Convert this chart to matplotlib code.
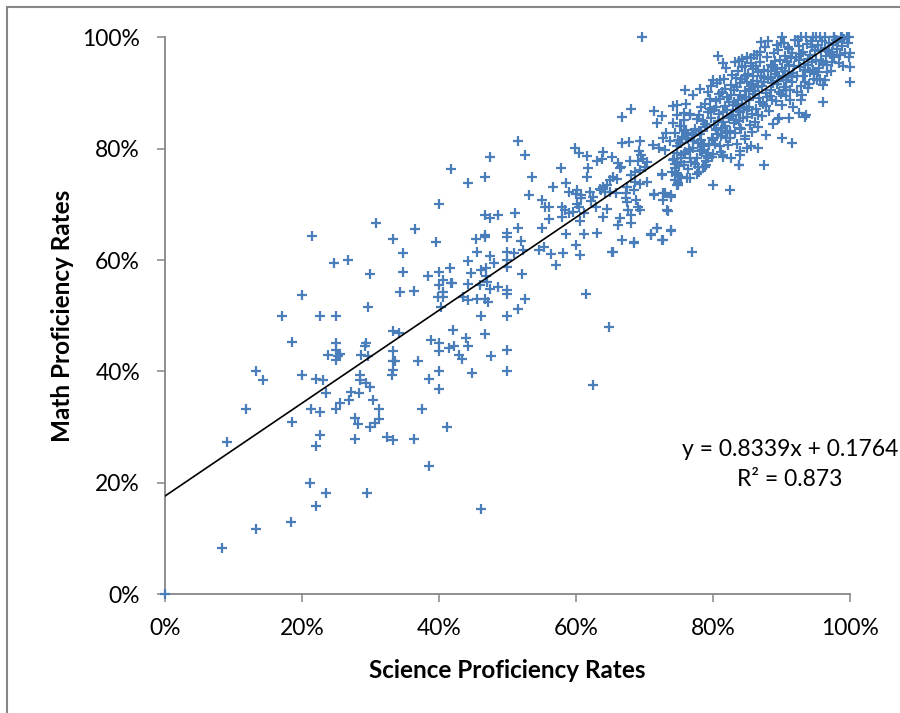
import matplotlib
matplotlib.use("Agg")
import matplotlib.pyplot as plt
from matplotlib.patches import Rectangle
from matplotlib.ticker import FuncFormatter

# ---------------- data (percent) ----------------
# sparse low / middle region
low_pts = [
    (30.8, 66.7), (21.4, 64.3), (24.6, 59.4), (26.7, 60.0), (29.9, 57.5), (20.0, 53.8),
    (17.1, 50.0), (22.7, 50.0), (25.0, 50.0), (29.7, 51.5), (18.5, 45.3), (25.0, 45.1),
    (24.9, 43.9), (23.8, 43.0), (25.5, 43.1), (24.9, 42.1), (25.3, 42.7), (28.6, 43.0),
    (29.4, 45.1), (29.2, 44.5), (29.7, 42.8), (13.3, 40.0), (14.3, 38.5), (20.0, 39.4),
    (22.1, 38.7), (23.1, 38.5), (23.5, 36.1), (28.5, 39.4), (28.5, 38.5), (29.4, 37.9),
    (29.9, 37.2), (27.2, 36.4), (28.3, 36.2), (26.8, 34.9), (25.6, 34.3), (25.0, 33.3),
    (30.4, 34.8), (31.2, 33.3), (11.8, 33.3), (21.3, 33.3), (22.6, 32.7), (18.5, 31.0),
    (27.7, 31.6), (28.2, 30.6), (31.2, 31.4), (30.7, 30.8), (29.9, 30.0), (22.7, 28.6),
    (22.1, 26.7), (27.8, 27.9), (32.4, 28.2), (9.1, 27.3), (21.2, 19.9), (23.5, 18.2),
    (29.5, 18.2), (22.1, 15.9), (18.4, 12.9), (13.3, 11.8), (8.3, 8.3), (0.0, 0.0),
]

mid_pts = [
    (51.6, 81.3), (52.6, 78.9), (47.4, 78.5), (41.8, 76.4), (44.3, 73.8), (46.7, 75.0),
    (53.6, 75.0), (57.8, 76.6), (59.9, 80.2), (60.5, 79.3), (61.6, 78.7), (63.0, 77.8),
    (63.8, 78.1), (64.0, 79.4), (61.8, 76.6), (61.6, 75.0), (56.6, 73.1), (58.5, 73.8),
    (59.0, 72.3), (60.2, 72.5), (60.7, 71.7), (62.0, 72.3), (62.5, 71.3), (63.6, 72.6),
    (64.5, 73.5), (53.2, 71.6), (55.1, 70.8), (55.5, 69.5), (56.1, 69.5), (56.1, 67.4),
    (58.0, 69.5), (58.4, 69.0), (59.0, 68.4), (59.5, 68.6), (60.1, 70.1), (60.5, 69.6),
    (61.1, 68.4), (60.6, 67.1), (58.0, 67.8), (64.0, 67.8), (64.5, 69.1), (51.1, 68.4),
    (48.6, 68.1), (46.7, 68.1), (47.4, 67.5), (40.0, 70.1), (36.5, 65.5), (33.3, 63.7),
    (39.5, 63.3), (34.7, 61.2), (34.8, 57.9), (34.3, 54.3), (36.4, 54.5), (45.4, 63.7),
    (46.7, 64.5), (46.7, 64.2), (49.9, 64.9), (49.9, 64.2), (51.6, 65.7), (51.9, 63.5),
    (55.1, 65.7), (58.5, 64.6), (61.1, 64.7), (63.0, 64.9), (60.0, 62.7), (60.6, 61.0),
    (58.1, 61.2), (56.4, 61.1), (57.1, 59.2), (54.6, 61.8), (55.4, 62.3), (52.2, 61.9),
    (51.0, 61.2), (49.9, 61.5), (49.9, 60.0), (49.9, 58.8), (45.5, 61.5), (47.4, 60.7),
    (48.1, 59.5), (44.2, 59.8), (41.6, 58.5), (40.0, 57.9), (38.4, 57.2), (44.6, 57.6),
    (46.1, 58.3), (46.9, 58.6), (46.9, 57.1), (52.1, 57.5), (40.0, 55.5), (40.6, 56.4),
    (41.9, 55.8), (40.6, 54.3), (39.9, 53.3), (40.6, 53.4), (40.3, 51.5), (44.3, 55.7),
    (46.0, 55.5), (47.0, 56.1), (47.4, 54.9), (48.6, 55.2), (49.9, 54.6), (49.9, 54.0),
    (43.5, 53.3), (44.3, 52.8), (45.5, 53.0), (46.7, 53.1), (47.1, 52.5), (52.6, 53.1),
    (51.6, 51.2), (49.9, 50.0), (46.2, 50.0), (61.5, 53.9), (64.8, 47.9), (33.3, 47.3),
    (34.1, 46.9), (38.9, 45.7), (40.0, 45.2), (40.0, 43.7), (42.0, 47.5), (41.4, 44.2),
    (42.2, 44.5), (42.9, 43.0), (43.3, 42.2), (44.0, 46.1), (44.3, 44.5), (46.7, 46.7),
    (47.6, 42.8), (49.9, 43.9), (49.9, 40.1), (44.8, 39.8), (40.0, 40.1), (38.5, 38.6),
    (40.0, 36.8), (37.0, 41.9), (33.3, 43.6), (33.3, 41.8), (33.6, 41.8), (33.3, 40.3),
    (33.1, 39.4), (37.5, 33.3), (33.3, 27.7), (36.4, 27.8), (41.2, 30.1), (38.5, 23.1),
    (46.1, 15.4), (62.5, 37.5), (41.7, 55.8),
]

upper_pts = [
    (68.1, 87.1), (66.7, 85.7), (71.4, 86.8), (72.5, 85.9), (71.8, 84.7), (74.2, 87.7),
    (66.7, 81.1), (67.7, 81.2), (69.4, 81.3), (71.2, 80.7), (72.1, 80.1), (73.0, 79.8),
    (65.2, 78.5), (66.6, 76.8), (67.9, 77.8), (69.2, 79.5), (69.5, 78.9), (69.8, 78.1),
    (70.4, 77.7), (69.0, 77.8), (70.1, 76.8), (69.3, 76.2), (68.6, 75.9), (68.0, 75.3),
    (66.4, 76.5), (66.2, 77.4), (60.0, 71.9), (62.2, 70.7), (60.8, 71.1), (63.5, 72.7),
    (64.0, 73.2), (64.9, 74.4), (65.4, 74.9), (66.0, 74.6), (64.2, 72.2), (65.0, 72.3),
    (65.9, 72.0), (67.3, 72.1), (67.4, 73.2), (68.4, 72.5), (68.6, 74.1), (69.3, 73.7),
    (67.3, 71.1), (67.4, 70.5), (68.8, 70.8), (69.1, 69.5), (69.4, 69.0), (67.6, 69.0),
    (68.0, 68.1), (68.1, 66.6), (66.4, 67.5), (66.2, 66.3), (62.9, 69.6), (66.7, 63.6),
    (68.4, 63.1), (65.3, 61.5), (70.9, 64.5), (71.8, 65.8), (72.7, 63.6), (73.9, 65.4),
    (73.3, 69.0), (72.7, 70.8), (71.4, 71.7), (73.0, 72.0), (73.9, 71.4), (70.4, 74.1),
    (72.5, 75.5), (74.5, 76.5), (74.5, 74.4), (74.9, 73.8), (82.5, 72.6), (80.0, 73.4),
    (76.9, 61.5), (65.4, 61.5), (68.4, 63.3), (71.0, 64.7), (71.8, 65.7), (72.6, 63.6),
    (73.8, 65.3), (73.4, 68.8), (71.4, 71.8), (72.7, 72.0), (73.8, 71.7), (72.5, 75.3),
    (75.2, 75.0), (74.8, 73.5), (76.6, 74.7), (77.6, 75.5), (74.8, 77.7), (75.3, 78.9),
    (76.6, 79.5), (78.1, 79.5), (79.0, 78.6), (79.0, 77.1), (83.8, 77.1), (87.4, 77.1),
    (83.9, 78.9), (84.9, 80.1), (86.6, 80.1), (87.8, 82.5), (90.0, 81.9), (91.5, 81.0),
    (93.6, 86.1), (92.5, 86.4), (91.1, 85.6), (89.7, 85.5), (96.1, 88.4), (100.0, 91.9),
    (100.0, 94.7), (100.0, 97.1), (99.8, 100.0), (98.8, 100.0), (97.6, 100.0),
    (95.1, 100.0), (94.6, 100.0), (92.9, 100.0), (90.0, 100.0), (69.6, 100.0),
    (80.8, 96.6), (81.5, 95.3), (78.8, 76.8), (77.8, 76.8), (75.7, 77.1), (83.8, 77.0),
    (84.0, 79.5), (82.7, 78.3), (81.5, 78.9), (79.3, 78.3), (76.6, 78.3), (75.4, 75.0),
    (75.4, 78.3), (84.7, 81.7), (86.5, 83.9), (84.0, 83.7), (82.5, 81.9), (81.0, 80.4),
    (80.0, 81.6), (78.6, 80.4), (77.1, 81.3), (76.1, 81.9), (75.7, 83.1), (78.2, 83.1),
    (80.5, 83.4), (82.0, 83.1), (93.4, 85.7), (89.5, 85.3), (92.9, 88.7), (91.7, 87.4),
    (95.6, 92.6), (96.4, 92.3), (95.4, 93.8), (89.3, 98.6), (83.2, 95.6), (84.2, 96.1),
    (84.2, 94.7), (85.6, 96.2), (86.4, 96.8), (80.0, 92.3), (81.0, 92.3), (75.9, 90.5),
    (77.1, 89.6), (78.1, 90.8), (79.3, 90.2), (76.1, 88.1), (75.7, 86.4), (76.6, 86.1),
    (74.8, 87.8), (74.7, 86.1), (74.2, 84.6), (75.2, 84.0), (74.5, 82.8), (74.9, 81.6),
    (75.4, 81.0), (73.2, 82.8), (72.7, 81.9), (73.7, 81.3), (74.7, 79.2), (74.2, 78.0),
    (75.4, 77.7), (74.9, 75.3), (74.0, 75.9),
]

# dense cluster (estimated)
cluster_pts = [
    (74.3, 78.2), (74.8, 80.5), (75.1, 76.9), (75.5, 82.1), (75.9, 79.4), (76.2, 74.8),
    (76.4, 81.7), (76.8, 77.6), (75.3, 84.0), (74.6, 75.6), (76.0, 83.3), (76.7, 86.2),
    (75.7, 79.0), (74.9, 73.5), (76.5, 79.9), (75.2, 81.0), (76.9, 82.8), (74.4, 77.3),
    (75.8, 85.1), (76.3, 76.4),
    (77.1, 80.1), (77.4, 83.6), (77.7, 78.4), (78.0, 86.0), (78.3, 81.5), (78.6, 76.7),
    (78.9, 84.4), (79.2, 79.3), (79.5, 87.2), (79.8, 82.0), (77.3, 77.2), (77.6, 85.3),
    (78.1, 82.7), (78.4, 79.8), (78.8, 88.1), (79.1, 83.9), (79.4, 80.6), (79.7, 85.6),
    (77.9, 75.9), (78.5, 84.9), (79.0, 77.8), (79.6, 89.0), (77.2, 82.4), (78.2, 87.4),
    (78.7, 80.9), (79.3, 86.5), (79.9, 78.5), (77.8, 81.1), (78.0, 83.1), (79.7, 91.2),
    (80.1, 84.2), (80.3, 80.8), (80.5, 88.5), (80.7, 82.6), (80.9, 86.3), (81.1, 79.4),
    (81.3, 90.1), (81.5, 84.8), (81.7, 87.6), (81.9, 81.9), (82.1, 89.2), (82.3, 85.5),
    (82.5, 83.2), (82.7, 91.4), (82.9, 87.9), (80.2, 86.9), (80.4, 83.5), (80.6, 91.8),
    (80.8, 85.0), (81.0, 88.9), (81.2, 82.2), (81.4, 86.6), (81.6, 92.6), (81.8, 84.1),
    (82.0, 87.0), (82.2, 80.7), (82.4, 88.3), (82.6, 85.9), (82.8, 93.3), (83.0, 84.6),
    (80.0, 79.0), (81.5, 78.5), (82.1, 82.9), (80.9, 89.8), (81.8, 90.7), (82.6, 89.6),
    (80.4, 87.5), (81.3, 83.7), (82.9, 86.1), (81.9, 94.4),
    (83.1, 88.4), (83.3, 85.2), (83.5, 91.0), (83.7, 86.8), (83.9, 89.7), (84.1, 83.6),
    (84.3, 92.5), (84.5, 87.3), (84.7, 90.3), (84.9, 85.7), (85.1, 93.4), (85.3, 88.8),
    (85.5, 91.6), (85.7, 86.2), (85.9, 94.3), (83.2, 82.8), (83.4, 87.9), (83.6, 93.9),
    (83.8, 84.9), (84.0, 91.8), (84.2, 88.1), (84.4, 85.5), (84.6, 94.9), (84.8, 89.3),
    (85.0, 86.9), (85.2, 90.8), (85.4, 84.3), (85.6, 95.4), (85.8, 89.9), (83.5, 80.9),
    (84.6, 82.2), (85.7, 83.0), (83.0, 90.6), (84.0, 86.5), (85.0, 92.0), (85.9, 91.3),
    (83.8, 95.8), (84.9, 96.5), (85.3, 87.5), (84.3, 89.0), (83.6, 88.7), (84.7, 93.1),
    (85.8, 93.0), (83.3, 92.7), (85.5, 80.5),
    (86.1, 90.4), (86.3, 87.2), (86.5, 93.7), (86.7, 89.1), (86.9, 95.6), (87.1, 91.3),
    (87.3, 88.0), (87.5, 94.2), (87.7, 90.0), (87.9, 96.4), (88.1, 92.5), (88.3, 89.5),
    (88.5, 95.0), (88.7, 91.8), (88.9, 97.1), (86.2, 84.8), (86.4, 92.2), (86.6, 86.1),
    (86.8, 97.4), (87.0, 93.1), (87.2, 85.9), (87.4, 91.9), (87.6, 98.2), (87.8, 87.6),
    (88.0, 93.9), (88.2, 86.8), (88.4, 92.9), (88.6, 88.7), (88.8, 94.6), (86.0, 96.8),
    (87.0, 99.1), (88.0, 99.4), (86.5, 91.0), (87.5, 92.7), (88.5, 90.6), (89.0, 93.4),
    (86.9, 88.4), (87.9, 89.3), (88.8, 84.5), (86.3, 94.8),
    (89.1, 95.8), (89.3, 91.6), (89.5, 97.7), (89.7, 93.0), (89.9, 99.0), (90.1, 94.5),
    (90.3, 91.1), (90.5, 96.6), (90.7, 92.4), (90.9, 98.3), (91.1, 95.1), (91.3, 90.6),
    (91.5, 97.2), (91.7, 93.6), (91.9, 99.6), (89.2, 88.6), (89.4, 94.3), (89.6, 90.2),
    (89.8, 96.0), (90.0, 87.9), (90.2, 92.9), (90.4, 98.9), (90.6, 89.4), (90.8, 95.5),
    (91.0, 93.2), (91.2, 88.7), (91.4, 96.3), (91.6, 91.9), (91.8, 94.8), (89.5, 92.1),
    (90.5, 94.0), (91.5, 92.8), (91.1, 97.9), (89.9, 89.8), (90.7, 90.5),
    (92.1, 96.5), (92.3, 93.1), (92.5, 98.4), (92.7, 94.7), (92.9, 91.3), (93.1, 97.3),
    (93.3, 95.2), (93.5, 92.0), (93.7, 98.8), (93.9, 96.1), (94.1, 93.7), (94.3, 99.3),
    (94.5, 95.6), (94.7, 92.6), (94.9, 97.8), (92.2, 90.1), (92.6, 95.9), (93.0, 89.6),
    (93.4, 94.1), (93.8, 90.9), (94.2, 96.9), (94.6, 94.2), (92.4, 99.5), (93.6, 100.0),
    (94.4, 98.2), (92.8, 97.0), (93.2, 93.0), (94.0, 91.6), (94.8, 93.5), (93.9, 95.0),
    (95.1, 96.0), (95.3, 98.7), (95.5, 94.4), (95.7, 97.5), (95.9, 99.4), (96.1, 95.3),
    (96.3, 98.1), (96.5, 96.7), (96.7, 93.8), (96.9, 99.0), (97.1, 97.0), (97.3, 95.6),
    (97.5, 98.6), (97.7, 96.4), (97.9, 99.6), (95.2, 92.3), (95.6, 100.0), (96.0, 91.5),
    (96.4, 100.0), (96.8, 97.8), (97.2, 93.9), (97.6, 100.0), (95.8, 95.8), (96.6, 95.0),
    (97.4, 97.3),
    (98.1, 97.9), (98.3, 99.2), (98.5, 96.8), (98.7, 100.0), (98.9, 98.4), (99.1, 99.7),
    (99.3, 97.2), (99.5, 100.0), (99.7, 98.9), (99.9, 96.5), (98.4, 95.4), (99.0, 94.8),
]

# trend line (Excel linear fit)
slope = 0.8339
intercept = 0.1764
r_squared = 0.873

x_ticks = [0, 20, 40, 60, 80, 100]
y_ticks = [0, 20, 40, 60, 80, 100]

# ---------------- plotting ----------------
plt.rcParams['font.family'] = ['Lato', 'DejaVu Sans']

fig = plt.figure(figsize=(9.0, 7.13), dpi=100)
ax = fig.add_axes([165 / 900, 1 - 594.3 / 713, (850 - 165) / 900, (594.3 - 37.3) / 713])

all_pts = low_pts + mid_pts + upper_pts + cluster_pts
xs = [p[0] for p in all_pts]
ys = [p[1] for p in all_pts]

ax.plot(xs, ys, linestyle='none', marker='+', markersize=7.2, markeredgewidth=1.6,
        color='#4A7EBB', clip_on=False, zorder=3)

tx = [0, 100]
ty = [intercept * 100 + slope * v for v in tx]
ax.plot(tx, ty, color='black', linewidth=1.2, zorder=4)

ax.set_xlim(0, 100)
ax.set_ylim(0, 100)
ax.set_xticks(x_ticks)
ax.set_yticks(y_ticks)
fmt = FuncFormatter(lambda v, p: f"{int(round(v))}%")
ax.xaxis.set_major_formatter(fmt)
ax.yaxis.set_major_formatter(fmt)

for s in ['top', 'right']:
    ax.spines[s].set_visible(False)
for s in ['left', 'bottom']:
    ax.spines[s].set_color('#868686')
    ax.spines[s].set_linewidth(1.3)

ax.tick_params(axis='both', direction='out', length=6, width=1.1, color='#868686',
               labelsize=16.5, labelcolor='black')
ax.tick_params(axis='y', pad=12)
ax.tick_params(axis='x', pad=11)

ax.set_xlabel('Science Proficiency Rates', fontsize=17.5, fontweight='bold')
ax.set_ylabel('Math Proficiency Rates', fontsize=17.5, fontweight='bold')
ax.xaxis.label.set_verticalalignment('center')
ax.yaxis.label.set_verticalalignment('center')
ax.xaxis.set_label_coords(0.5, (594.3 - 670) / 557)
ax.yaxis.set_label_coords((62 - 165) / 685, 0.5)

ax.text(91.2, 23.3, f"y = {slope}x + {intercept}\nR² = {r_squared}",
        ha='center', va='center', multialignment='center', fontsize=16.5,
        linespacing=1.5, clip_on=False)

# chart area border
fig.patches.append(Rectangle((6.7 / 900, -0.1), 1.2, 1 - 7.3 / 713 + 0.1,
                             transform=fig.transFigure, fill=False,
                             edgecolor='#868686', linewidth=1.5))

fig.savefig('out.png', dpi=100, facecolor='white')
